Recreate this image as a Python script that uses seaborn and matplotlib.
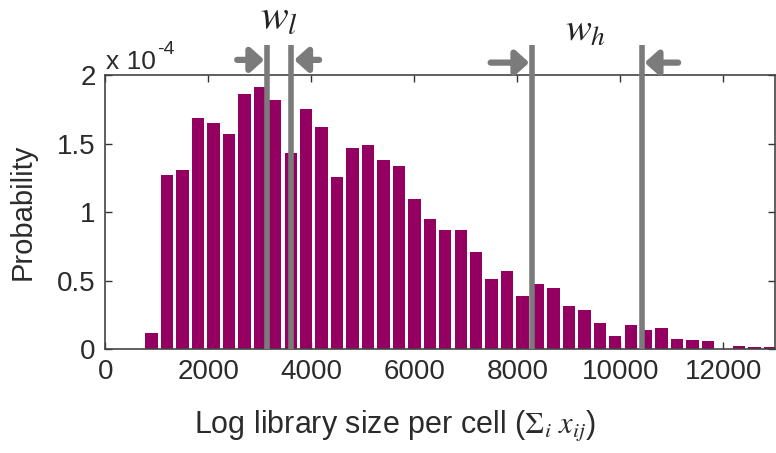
import numpy as np
import pandas as pd
import matplotlib
matplotlib.use("Agg")
import matplotlib.pyplot as plt
import seaborn as sns

# ---- data (probability in units of 1e-4) ----
bin_centers = [900, 1200, 1500, 1800, 2100, 2400, 2700, 3000, 3300, 3600,
               3900, 4200, 4500, 4800, 5100, 5400, 5700, 6000, 6300, 6600,
               6900, 7200, 7500, 7800, 8100, 8400, 8700, 9000, 9300, 9600,
               9900, 10200, 10500, 10800, 11100, 11400, 11700, 12000, 12300,
               12600, 12900]
probability_e4 = [0.12, 1.27, 1.31, 1.69, 1.65, 1.57, 1.86, 1.91, 1.82, 1.43,
                  1.75, 1.62, 1.26, 1.47, 1.49, 1.38, 1.34, 1.10, 0.95, 0.87,
                  0.87, 0.71, 0.51, 0.57, 0.39, 0.48, 0.45, 0.32, 0.29, 0.19,
                  0.10, 0.18, 0.14, 0.16, 0.08, 0.07, 0.06, 0.0, 0.025,
                  0.015, 0.015]
bin_width = 300
threshold_low = [3140, 3612]     # w_l boundaries
threshold_high = [8285, 10415]   # w_h boundaries
xticks = [0, 2000, 4000, 6000, 8000, 10000, 12000]
yticks = [0, 0.5, 1, 1.5, 2]

df = pd.DataFrame({"size": bin_centers, "prob": probability_e4})

sns.set_style("ticks")
plt.rcParams["font.family"] = ["Liberation Sans", "DejaVu Sans"]
plt.rcParams["mathtext.fontset"] = "stix"

BAR = "#940062"
GRAY = "#7b7b7b"
TXT = "#2b2b2b"

fig = plt.figure(figsize=(7.76, 4.53), dpi=100)
ax = fig.add_axes([0.1357, 0.2285, 0.8630, 0.6060])

sns.histplot(data=df, x="size", weights="prob", binwidth=bin_width,
             binrange=(bin_centers[0] - bin_width / 2,
                       bin_centers[-1] + bin_width / 2),
             shrink=0.8, color=BAR, alpha=1.0, linewidth=0, ax=ax)

ax.set_xlim(0, 13000)
ax.set_ylim(0, 2)
ax.set_xticks(xticks)
ax.set_yticks(yticks)
ax.set_yticklabels(["0", "0.5", "1", "1.5", "2"])
ax.tick_params(direction="in", length=5, width=1.0, top=True, right=True,
               labelsize=20, colors="#333333", labelcolor=TXT, pad=7)
for s in ax.spines.values():
    s.set_visible(True)
    s.set_color("#444444")
    s.set_linewidth(1.2)

ax.set_ylabel("Probability", fontsize=21, color=TXT)
ax.set_xlabel(r"Log library size per cell ($\Sigma_i\ x_{ij}$)",
              fontsize=22, color=TXT)
ax.yaxis.set_label_coords(-0.103, 0.5)
ax.xaxis.set_label_coords(0.433, -0.215)

# threshold lines extending above the axes
ytop = 2.215
for xv in threshold_low + threshold_high:
    ax.plot([xv, xv], [0, ytop], color=GRAY, lw=4, clip_on=False,
            solid_capstyle="butt", zorder=5)

# arrows
astyle = "-|>,head_length=0.4,head_width=0.36"
def arrow(x0, x1, y):
    ax.annotate("", xy=(x1, y), xytext=(x0, y), xycoords="data",
                annotation_clip=False,
                arrowprops=dict(arrowstyle=astyle, color=GRAY, lw=4.5,
                                mutation_scale=20, shrinkA=0, shrinkB=0))

arrow(2560, 3085, 2.11)
arrow(4150, 3668, 2.11)
arrow(7480, 8230, 2.09)
arrow(11120, 10470, 2.09)

ax.text(3380, 2.33, r"$w_l$", fontsize=30, ha="center", va="baseline",
        color="#222222")
ax.text(9320, 2.25, r"$w_h$", fontsize=28, ha="center", va="baseline",
        color="#222222")

# exponent annotation
ax.text(20, 2.045, "x 10", fontsize=19, ha="left", va="baseline", color=TXT)
ax.text(1000, 2.15, "-4", fontsize=14, ha="left", va="baseline", color=TXT)

fig.savefig("out.png", dpi=100)
